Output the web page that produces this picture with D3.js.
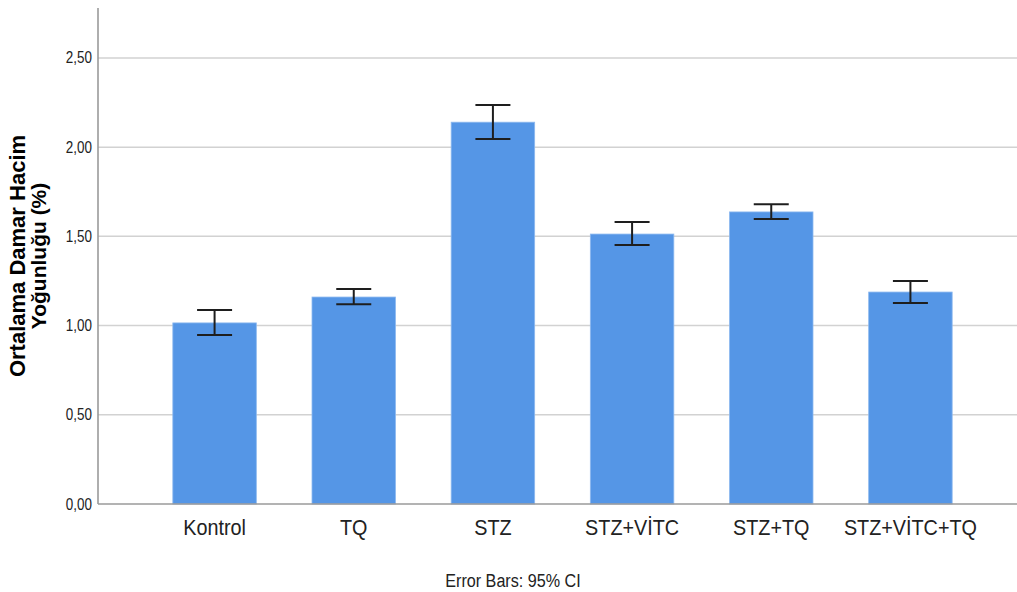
<!DOCTYPE html>
<html>
<head>
<meta charset="utf-8">
<script src="https://cdn.jsdelivr.net/npm/d3@7"></script>
<style>
  html, body { margin: 0; padding: 0; background: #fff; }
  svg { display: block; }
  text { font-family: "Liberation Sans", Arial, sans-serif; fill: #222; }
</style>
</head>
<body>
<svg id="chart" width="1017" height="592"></svg>
<script>
const categories = ["Kontrol", "TQ", "STZ", "STZ+VİTC", "STZ+TQ", "STZ+VİTC+TQ"];
const means = [1.015, 1.16, 2.14, 1.513, 1.637, 1.188];
const ciLow = [0.947, 1.12, 2.046, 1.452, 1.597, 1.127];
const ciHigh = [1.087, 1.205, 2.237, 1.58, 1.68, 1.25];
const yTicks = [0, 0.5, 1.0, 1.5, 2.0, 2.5];
const yTitle = ["Ortalama Damar Hacim", "Yoğunluğu (%)"];
const footnote = "Error Bars: 95% CI";

const svg = d3.select("#chart");
const axisLeftX = 98, axisRight = 1017, yTop = 8, yBottom = 504;

const x = d3.scaleBand().domain(categories).range([145, 980]).paddingInner(0.4).paddingOuter(0.2);
const y = d3.scaleLinear().domain([0, 2.78]).range([yBottom, yTop]);

const fmt = v => d3.format(".2f")(v).replace(".", ",");

// gridlines
svg.append("g").selectAll("line").data(yTicks.filter(t => t > 0)).join("line")
  .attr("x1", axisLeftX).attr("x2", axisRight)
  .attr("y1", d => y(d)).attr("y2", d => y(d))
  .attr("stroke", "#d2d2d2").attr("stroke-width", 1.5);

// bars
svg.append("g").selectAll("rect").data(categories).join("rect")
  .attr("x", d => x(d)).attr("width", x.bandwidth())
  .attr("y", (d, i) => y(means[i])).attr("height", (d, i) => yBottom - y(means[i]))
  .attr("fill", "#5596e6").attr("stroke", "#8db9ef").attr("stroke-width", 0.8);

// error bars
const eb = svg.append("g").attr("stroke", "#1e1e1e").attr("stroke-width", 2);
categories.forEach((c, i) => {
  const cx = x(c) + x.bandwidth() / 2;
  eb.append("line").attr("x1", cx).attr("x2", cx).attr("y1", y(ciHigh[i])).attr("y2", y(ciLow[i]));
  eb.append("line").attr("x1", cx - 17.5).attr("x2", cx + 17.5).attr("y1", y(ciHigh[i])).attr("y2", y(ciHigh[i]));
  eb.append("line").attr("x1", cx - 17.5).attr("x2", cx + 17.5).attr("y1", y(ciLow[i])).attr("y2", y(ciLow[i]));
});

// axis lines
svg.append("line").attr("x1", axisLeftX).attr("x2", axisLeftX).attr("y1", yTop).attr("y2", yBottom)
  .attr("stroke", "#9a9a9a").attr("stroke-width", 1.6);
svg.append("line").attr("x1", axisLeftX).attr("x2", axisRight).attr("y1", yBottom).attr("y2", yBottom)
  .attr("stroke", "#9a9a9a").attr("stroke-width", 1.6);

// y tick labels
svg.append("g").selectAll("text").data(yTicks).join("text")
  .attr("transform", d => `translate(92,${y(d) + 5.5}) scale(0.84,1)`)
  .attr("text-anchor", "end").attr("font-size", 16).text(d => fmt(d));

// category labels
svg.append("g").selectAll("text").data(categories).join("text")
  .attr("transform", d => `translate(${x(d) + x.bandwidth() / 2},535) scale(0.9,1)`)
  .attr("text-anchor", "middle").attr("font-size", 22).text(d => d);

// y title
svg.append("g").selectAll("text").data(yTitle).join("text")
  .attr("transform", (d, i) => `translate(${i === 0 ? 25 : 46},256) rotate(-90)`)
  .attr("text-anchor", "middle").attr("font-size", (d, i) => i === 0 ? 22 : 21).attr("font-weight", "bold")
  .style("fill", "#000").text(d => d);

// footnote
svg.append("text")
  .attr("transform", "translate(513,587) scale(0.85,1)")
  .attr("text-anchor", "middle").attr("font-size", 19).text(footnote);
</script>
</body>
</html>
